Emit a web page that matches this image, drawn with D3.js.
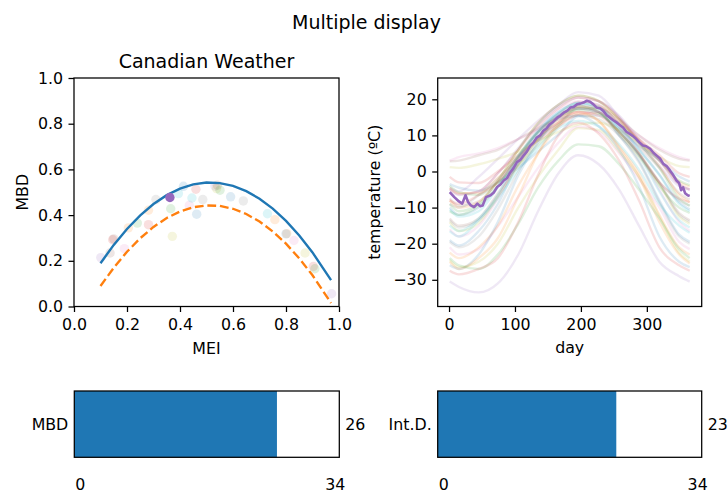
<!DOCTYPE html>
<html>
<head>
<meta charset="utf-8">
<script src="https://cdn.jsdelivr.net/npm/d3@7"></script>
<style>
  html, body { margin: 0; padding: 0; background: #fff; }
  svg { display: block; font-family: "DejaVu Sans", sans-serif; }
</style>
</head>
<body>
<svg id="chart" width="728" height="492"></svg>
<script>
// ---------------- DATA ----------------
const stations = ["St. Johns","Halifax","Sydney","Yarmouth","Charlottetown","Fredericton",
  "Scheffervll","Arvida","Bagottville","Quebec","Sherbrooke","Montreal","Ottawa","Toronto",
  "London","Thunder Bay","Winnipeg","The Pas","Churchill","Regina","Pr. Albert","Uranium City",
  "Edmonton","Calgary","Kamloops","Vancouver","Victoria","Pr. George","Pr. Rupert","Whitehorse",
  "Dawson","Yellowknife","Iqaluit","Inuvik","Resolute"];

// sample days (first day, mid-month days, last day)
const sampleDays = [1, 15, 45, 74, 105, 135, 166, 196, 227, 258, 288, 319, 349, 365];

// temperatures (ºC) per station at sampleDays
const stationTemps = [
  [-3.5, -4.5, -5.3, -3.0, 1.0, 5.5, 10.3, 15.3, 15.5, 11.8, 7.1, 3.2, -1.4, -2.8],
  [-4.5, -6.0, -6.0, -1.8, 3.8, 9.3, 14.3, 18.0, 18.0, 14.2, 8.8, 3.5, -2.8, -4.2],
  [-4.0, -5.8, -6.5, -3.0, 1.8, 7.3, 12.8, 17.4, 17.5, 13.4, 8.0, 3.0, -2.5, -3.8],
  [-1.5, -3.0, -3.2, 0.0, 4.5, 8.5, 12.5, 15.8, 16.2, 13.5, 9.0, 4.5, -0.5, -1.5],
  [-5.7, -8.3, -9.4, -4.3, 2.6, 9.4, 14.9, 18.6, 17.7, 13.6, 9.0, 3.6, -3.2, -6.8],
  [-7.5, -9.5, -8.3, -2.8, 4.3, 10.8, 16.0, 19.3, 18.4, 13.0, 7.0, 1.0, -6.0, -7.8],
  [-21.0, -23.0, -21.5, -15.2, -7.0, 1.0, 8.0, 12.4, 11.0, 5.0, -2.0, -10.0, -19.5, -21.5],
  [-13.5, -15.5, -13.5, -6.8, 2.0, 9.5, 15.3, 18.0, 16.5, 11.0, 4.5, -3.2, -12.0, -14.0],
  [-14.0, -16.5, -14.3, -7.0, 1.5, 9.0, 15.0, 18.0, 16.5, 10.5, 4.0, -3.5, -12.5, -14.5],
  [-10.5, -12.5, -11.0, -4.5, 3.5, 11.0, 16.3, 19.0, 17.5, 12.5, 6.0, -1.0, -9.0, -11.0],
  [-10.0, -12.0, -10.0, -4.0, 4.0, 11.0, 16.0, 18.5, 17.3, 12.2, 6.2, -0.8, -8.5, -10.5],
  [-8.0, -10.0, -8.5, -2.5, 6.0, 13.5, 18.5, 21.0, 19.5, 14.5, 8.0, 1.5, -6.5, -8.5],
  [-9.0, -11.0, -9.0, -2.5, 6.0, 13.3, 18.5, 21.0, 19.5, 14.5, 8.0, 1.0, -7.5, -9.5],
  [-4.8, -6.3, -5.5, -0.5, 6.0, 12.5, 17.5, 20.5, 19.5, 15.0, 8.5, 3.0, -3.5, -5.0],
  [-5.0, -6.5, -5.5, -0.5, 6.5, 13.0, 18.0, 20.5, 19.5, 15.5, 9.0, 3.0, -3.5, -5.0],
  [-13.0, -15.0, -13.0, -6.0, 2.0, 9.0, 13.5, 17.5, 16.5, 11.0, 5.0, -3.0, -11.5, -13.5],
  [-16.0, -18.0, -15.0, -7.5, 3.5, 11.5, 17.0, 19.5, 18.5, 12.5, 5.0, -5.0, -14.0, -16.5],
  [-19.5, -21.0, -18.0, -10.5, 0.0, 8.5, 15.0, 18.0, 16.5, 10.0, 2.5, -8.5, -18.0, -20.0],
  [-24.5, -26.5, -25.0, -20.0, -10.0, -1.5, 6.0, 12.0, 11.5, 5.5, -1.5, -12.5, -22.5, -25.0],
  [-15.0, -16.5, -13.0, -6.5, 4.0, 11.5, 16.5, 19.0, 18.0, 11.5, 4.5, -5.5, -13.5, -15.5],
  [-19.0, -20.5, -16.5, -9.0, 2.5, 10.5, 15.5, 17.5, 16.5, 10.0, 3.0, -8.0, -17.5, -19.5],
  [-22.5, -24.0, -21.0, -15.0, -4.0, 5.0, 12.5, 16.0, 14.0, 7.0, -0.5, -12.0, -21.0, -23.0],
  [-11.0, -12.0, -9.5, -4.0, 4.5, 11.0, 15.0, 17.0, 16.0, 11.0, 5.0, -4.0, -10.0, -11.5],
  [-8.0, -9.0, -6.5, -3.0, 3.5, 9.5, 13.5, 16.5, 15.5, 11.0, 5.0, -3.0, -7.5, -8.5],
  [-4.5, -5.5, -1.5, 3.5, 9.0, 14.0, 18.5, 22.0, 21.0, 15.0, 8.0, 1.5, -4.0, -5.0],
  [2.8, 3.0, 4.5, 6.0, 9.0, 12.0, 15.0, 17.5, 17.5, 14.5, 10.0, 6.0, 3.5, 3.0],
  [3.0, 4.0, 5.0, 6.5, 9.0, 11.5, 14.5, 16.5, 16.5, 14.0, 10.0, 6.5, 4.0, 3.2],
  [-9.0, -10.0, -6.5, -2.0, 4.0, 9.0, 13.0, 15.5, 14.5, 10.0, 4.5, -3.0, -8.0, -9.5],
  [1.2, 1.0, 2.0, 3.5, 5.5, 8.5, 11.0, 13.0, 13.5, 11.5, 8.0, 4.0, 1.5, 1.2],
  [-16.5, -18.0, -13.5, -7.5, 0.5, 6.5, 12.0, 14.0, 12.5, 7.5, 0.5, -9.0, -15.0, -17.0],
  [-26.0, -27.0, -23.0, -14.0, -1.0, 8.0, 14.5, 15.5, 12.5, 6.0, -4.0, -18.0, -25.0, -26.5],
  [-25.0, -27.0, -24.0, -18.5, -7.0, 5.0, 13.5, 16.5, 14.0, 6.5, -1.5, -14.0, -23.0, -25.5],
  [-24.0, -26.0, -27.0, -23.0, -14.5, -4.5, 3.0, 7.5, 7.0, 2.0, -5.0, -13.0, -21.5, -24.0],
  [-27.5, -28.5, -27.0, -24.0, -14.0, -1.0, 10.0, 13.5, 10.5, 3.0, -8.0, -21.0, -26.0, -27.5],
  [-30.5, -32.0, -33.5, -31.0, -23.0, -11.0, -0.5, 4.5, 2.0, -5.0, -15.0, -25.0, -29.0, -30.5]
];

// highlighted station (Charlottetown) read in finer detail
const highlightStation = 4;
const highlightDays = [1,8,15,20,25,29,33,38,43,47,51,56,63,68,73,78,83,88,93,98,103,108,113,118,123,128,133,138,143,148,153,158,164,169,174,179,184,189,194,199,204,209,214,219,224,229,234,239,244,249,254,259,264,269,274,279,284,289,294,299,305,310,315,320,325,330,335,340,345,349,352,355,358,362,365];
const highlightTemps = [-5.7,-7.1,-8.3,-8.9,-6.6,-8.5,-9.4,-9.9,-8.9,-9.6,-9.4,-7.1,-6.6,-5.8,-4.3,-3.6,-2.5,-1.8,-0.2,1.0,2.6,3.2,4.4,5.5,7.1,8.0,9.4,10.0,11.3,12.0,13.1,13.8,14.9,15.5,16.3,16.8,17.7,17.9,18.6,18.8,19.1,19.6,19.3,18.6,17.7,17.5,16.8,15.6,14.9,14.2,13.6,12.9,12.2,11.0,10.4,9.8,9.0,8.0,7.2,7.0,6.3,5.2,4.4,3.6,2.1,1.5,0.3,-1.0,-2.5,-3.2,-5.2,-4.4,-6.0,-6.6,-6.8];

// outliergram points
const pointMEI = [0.101,0.136,0.146,0.150,0.190,0.205,0.239,0.281,0.281,0.309,0.362,0.365,0.371,0.394,0.413,0.435,0.445,0.460,0.463,0.486,0.532,0.541,0.538,0.551,0.591,0.639,0.730,0.758,0.803,0.800,0.830,0.872,0.903,0.909,0.972];
const pointMBD = [0.214,0.234,0.292,0.296,0.253,0.344,0.365,0.421,0.358,0.468,0.477,0.428,0.307,0.494,0.526,0.443,0.475,0.513,0.404,0.468,0.527,0.531,0.516,0.509,0.480,0.462,0.406,0.380,0.319,0.318,0.289,0.234,0.175,0.165,0.056];
const pointStation = [34,15,33,5,6,31,32,21,23,17,4,22,28,29,20,26,19,3,30,27,14,25,8,12,10,7,9,1,11,0,16,18,13,2,24];

// parabola and threshold curve
const curveMEI = [0.10,0.15,0.20,0.25,0.30,0.35,0.40,0.45,0.50,0.55,0.60,0.65,0.70,0.75,0.80,0.85,0.90,0.97];
const curveMBD = [0.1895,0.2696,0.3394,0.3990,0.4483,0.4873,0.5159,0.5343,0.5424,0.5402,0.5277,0.5049,0.4718,0.4284,0.3748,0.3108,0.2365,0.1153];
const thresholdMBD = [0.0895,0.1696,0.2394,0.2990,0.3483,0.3873,0.4159,0.4343,0.4424,0.4402,0.4277,0.4049,0.3718,0.3284,0.2748,0.2108,0.1365,0.0153];

// bar widgets
const barLabels = ["MBD", "Int.D."];
const barValues = [26, 23];
const barMax = 34;

// ticks
const scatterTicks = [0, 0.2, 0.4, 0.6, 0.8, 1.0];
const dayTicks = [0, 100, 200, 300];
const tempTicks = [-30, -20, -10, 0, 10, 20];
const tempDomain = [-37.4, 25.9];

// ---------------- DRAW ----------------
const svg = d3.select("#chart");
const FS = 15.8, TFS = 19;
const colors = d3.schemeCategory10;
const SW = 1.26;

svg.append("text").attr("x", 366.5).attr("y", 29).attr("text-anchor", "middle")
  .attr("font-size", TFS).text("Multiple display");

function frame(g, x0, x1, y0, y1) {
  g.append("rect").attr("x", x0).attr("y", y0).attr("width", x1 - x0).attr("height", y1 - y0)
    .attr("fill", "none").attr("stroke", "#000").attr("stroke-width", SW);
}
function styleAxis(sel) {
  sel.select(".domain").remove();
  sel.selectAll(".tick line").attr("stroke", "#000").attr("stroke-width", SW);
  sel.selectAll(".tick text").attr("fill", "#000").attr("font-size", FS).attr("font-family", "DejaVu Sans");
}

// ---- Left: outliergram ----
const L = {x0: 74, x1: 339, y0: 78, y1: 306.5};
const xL = d3.scaleLinear().domain([0, 1]).range([L.x0, L.x1]);
const yL = d3.scaleLinear().domain([0, 1]).range([L.y1, L.y0]);
const gL = svg.append("g");

gL.append("g").attr("transform", `translate(0,${L.y1})`)
  .call(d3.axisBottom(xL).tickValues(scatterTicks).tickFormat(d3.format(".1f")).tickSize(5.5).tickPadding(6.5))
  .call(styleAxis);
gL.append("g").attr("transform", `translate(${L.x0},0)`)
  .call(d3.axisLeft(yL).tickValues(scatterTicks).tickFormat(d3.format(".1f")).tickSize(5.5).tickPadding(5.5))
  .call(styleAxis);

// points
const pts = pointMEI.map((m, i) => ({m, b: pointMBD[i], s: pointStation[i]}));
gL.selectAll("circle.pt").data(pts.filter(p => p.s !== highlightStation)).join("circle")
  .attr("cx", d => xL(d.m)).attr("cy", d => yL(d.b)).attr("r", 4.7)
  .attr("fill", d => colors[d.s % 10]).attr("fill-opacity", 0.15);

const curve = curveMEI.map((m, i) => ({m, b: curveMBD[i], t: thresholdMBD[i]}));
gL.append("path").datum(curve)
  .attr("d", d3.line().x(d => xL(d.m)).y(d => yL(d.b)))
  .attr("fill", "none").attr("stroke", colors[0]).attr("stroke-width", 2.37);
gL.append("path").datum(curve)
  .attr("d", d3.line().x(d => xL(d.m)).y(d => yL(d.t)))
  .attr("fill", "none").attr("stroke", colors[1]).attr("stroke-width", 2.37)
  .attr("stroke-dasharray", "8.8,3.8");

gL.selectAll("circle.hl").data(pts.filter(p => p.s === highlightStation)).join("circle")
  .attr("cx", d => xL(d.m)).attr("cy", d => yL(d.b)).attr("r", 4.7)
  .attr("fill", colors[highlightStation % 10]);

frame(gL, L.x0, L.x1, L.y0, L.y1);
gL.append("text").attr("x", (L.x0 + L.x1) / 2).attr("y", 68).attr("text-anchor", "middle")
  .attr("font-size", TFS).text("Canadian Weather");
gL.append("text").attr("x", (L.x0 + L.x1) / 2).attr("y", 354).attr("text-anchor", "middle")
  .attr("font-size", FS).text("MEI");
gL.append("text").attr("transform", `translate(28,${(L.y0 + L.y1) / 2}) rotate(-90)`)
  .attr("text-anchor", "middle").attr("font-size", FS).text("MBD");

// ---- Right: temperature curves ----
const R = {x0: 437.7, x1: 701.7, y0: 78, y1: 306.5};
const allDays = sampleDays.concat(highlightDays);
const dExt = d3.extent(allDays), dPad = (dExt[1] - dExt[0]) * 0.05;
const xR = d3.scaleLinear().domain([dExt[0] - dPad, dExt[1] + dPad]).range([R.x0, R.x1]);
const yR = d3.scaleLinear().domain(tempDomain).range([R.y1, R.y0]);
const gR = svg.append("g");

gR.append("g").attr("transform", `translate(0,${R.y1})`)
  .call(d3.axisBottom(xR).tickValues(dayTicks).tickSize(5.5).tickPadding(6.5))
  .call(styleAxis);
gR.append("g").attr("transform", `translate(${R.x0},0)`)
  .call(d3.axisLeft(yR).tickValues(tempTicks).tickSize(5.5).tickPadding(5.5))
  .call(styleAxis);

const lineR = d3.line().x(d => xR(d[0])).y(d => yR(d[1])).curve(d3.curveMonotoneX);
gR.selectAll("path.st").data(stationTemps.map((row, i) => ({i, pts: row.map((t, k) => [sampleDays[k], t])}))
    .filter(d => d.i !== highlightStation))
  .join("path")
  .attr("d", d => lineR(d.pts))
  .attr("fill", "none").attr("stroke", d => colors[d.i % 10])
  .attr("stroke-width", 2.37).attr("stroke-opacity", 0.15);

gR.append("path").datum(highlightDays.map((d, k) => [d, highlightTemps[k]]))
  .attr("d", d3.line().x(d => xR(d[0])).y(d => yR(d[1])))
  .attr("fill", "none").attr("stroke", colors[highlightStation % 10]).attr("stroke-width", 2.6)
  .attr("stroke-linejoin", "round");

frame(gR, R.x0, R.x1, R.y0, R.y1);
gR.append("text").attr("x", (R.x0 + R.x1) / 2).attr("y", 353).attr("text-anchor", "middle")
  .attr("font-size", FS).text("day");
gR.append("text").attr("transform", `translate(380,${(R.y0 + R.y1) / 2}) rotate(-90)`)
  .attr("text-anchor", "middle").attr("font-size", FS).text("temperature (ºC)");

// ---- Bottom bars ----
const barBoxes = [{x0: 74.3, x1: 339.3}, {x0: 437.7, x1: 701.7}];
const BY0 = 391, BY1 = 457.3;
barValues.forEach((v, i) => {
  const bx = barBoxes[i];
  const s = d3.scaleLinear().domain([0, barMax]).range([bx.x0, bx.x1]);
  const g = svg.append("g");
  g.append("rect").attr("x", s(0)).attr("y", BY0).attr("width", s(v) - s(0)).attr("height", BY1 - BY0)
    .attr("fill", colors[0]);
  frame(g, bx.x0, bx.x1, BY0, BY1);
  const cy = (BY0 + BY1) / 2 + 5.7;
  g.append("text").attr("x", bx.x0 - 6).attr("y", cy).attr("text-anchor", "end")
    .attr("font-size", FS).text(barLabels[i]);
  g.append("text").attr("x", bx.x1 + 6).attr("y", cy).attr("text-anchor", "start")
    .attr("font-size", FS).text(v);
  g.append("text").attr("x", s(0) + 1).attr("y", 489.5).attr("text-anchor", "start")
    .attr("font-size", FS).text(0);
  g.append("text").attr("x", s(barMax) + 6).attr("y", 489.5).attr("text-anchor", "end")
    .attr("font-size", FS).text(barMax);
});
</script>
</body>
</html>
